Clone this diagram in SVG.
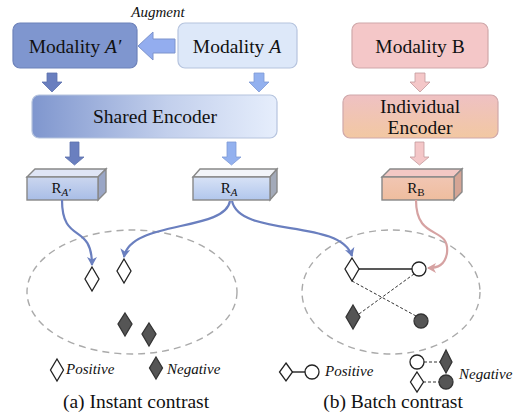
<svg xmlns="http://www.w3.org/2000/svg" width="526" height="417" viewBox="0 0 526 417">
<defs>
<style>
.t{font-family:"Liberation Serif","Times New Roman",serif;fill:#111;}
.lbl{font-size:19.5px;text-anchor:middle;}
.it{font-style:italic;}
.leg{font-size:15px;font-style:italic;}
.rl{font-size:15px;text-anchor:middle;}
.ell{fill:none;stroke:#aaa;stroke-width:1.4;stroke-dasharray:7 5;}
.wd{fill:#fff;stroke:#222;stroke-width:1.3;}
.dd{fill:#555;stroke:#333;stroke-width:1.3;}
.blue{fill:none;stroke:#6a7fbf;stroke-width:2.2;}
.pink{fill:none;stroke:#d6a2a2;stroke-width:2.2;}
.sl{stroke:#222;stroke-width:1.4;}
.dl{stroke:#333;stroke-width:1;stroke-dasharray:3 2;}
.rbox{stroke:#888;stroke-width:1.4;}
</style>
<linearGradient id="gShared" x1="0" y1="0" x2="1" y2="0">
<stop offset="0" stop-color="#7f96ce"/>
<stop offset="0.55" stop-color="#c2cfec"/>
<stop offset="1" stop-color="#e6eefc"/>
</linearGradient>
<linearGradient id="gInd" x1="0" y1="0" x2="0" y2="1">
<stop offset="0" stop-color="#efc1c3"/>
<stop offset="1" stop-color="#f2c8a2"/>
</linearGradient>
<linearGradient id="gRa2" x1="0" y1="0" x2="0" y2="1">
<stop offset="0" stop-color="#cbd6ef"/>
<stop offset="1" stop-color="#a8bde6"/>
</linearGradient>
<linearGradient id="gRa" x1="0" y1="0" x2="0" y2="1">
<stop offset="0" stop-color="#d7e2f6"/>
<stop offset="1" stop-color="#b1c6ec"/>
</linearGradient>
<linearGradient id="gRb" x1="0" y1="0" x2="0" y2="1">
<stop offset="0" stop-color="#f1c6b3"/>
<stop offset="1" stop-color="#efbd9e"/>
</linearGradient>
<marker id="mBlue" markerWidth="10" markerHeight="10" refX="8" refY="5" orient="auto" markerUnits="userSpaceOnUse">
<path d="M0,0 L9,5 L0,10 L2.5,5 Z" fill="#6a7fbf"/>
</marker>
<marker id="mPink" markerWidth="10" markerHeight="10" refX="8" refY="5" orient="auto" markerUnits="userSpaceOnUse">
<path d="M0,0 L9,5 L0,10 L2.5,5 Z" fill="#d6a2a2"/>
</marker>
</defs>
<rect width="526" height="417" fill="#fff"/>

<g id="augment-label">
<text class="t" x="158" y="17" font-size="15" font-style="italic" text-anchor="middle">Augment</text>
</g>

<g id="modality-a-prime">
<rect x="13" y="23" width="124" height="45" rx="7" fill="#7f96cf" stroke="#6d82ba" stroke-width="1.2"/>
<text class="t lbl" x="75" y="53">Modality <tspan class="it">A′</tspan></text>
</g>

<g id="modality-a">
<rect x="178" y="23" width="119" height="45" rx="7" fill="#dde8f9" stroke="#b6c4de" stroke-width="1.2"/>
<text class="t lbl" x="237" y="53">Modality <tspan class="it">A</tspan></text>
</g>

<g id="modality-b">
<rect x="352" y="23" width="136" height="45" rx="7" fill="#f4c7c8" stroke="#cfa8aa" stroke-width="1.2"/>
<text class="t lbl" x="420" y="53">Modality B</text>
</g>

<g id="shared-encoder">
<rect x="32" y="95" width="245" height="43" rx="7" fill="url(#gShared)" stroke="#b6c4de" stroke-width="1.2"/>
<text class="t lbl" x="155" y="123">Shared Encoder</text>
</g>

<g id="individual-encoder">
<rect x="343" y="95" width="155" height="43" rx="7" fill="url(#gInd)" stroke="#cfa8aa" stroke-width="1.2"/>
<text class="t lbl" x="420" y="113">Individual</text>
<text class="t lbl" x="420" y="134">Encoder</text>
</g>

<g id="r-a-prime">
<polygon class="rbox" points="27,177 35,169 106,169 98,177" fill="#dfe5f5"/>
<polygon class="rbox" points="98,177 106,169 106,192 98,200" fill="#9aa6c6"/>
<rect class="rbox" x="27" y="177" width="71" height="23" fill="url(#gRa2)"/>
<text class="t rl" x="61" y="193">R<tspan font-size="11" dy="3" font-style="italic">A′</tspan></text>
</g>

<g id="r-a">
<polygon class="rbox" points="193,177 200,169 277,169 270,177" fill="#f3f5f9"/>
<polygon class="rbox" points="270,177 277,169 277,192 270,200" fill="#a3aab9"/>
<rect class="rbox" x="193" y="177" width="77" height="23" fill="url(#gRa)"/>
<text class="t rl" x="229" y="193">R<tspan font-size="11" dy="3" font-style="italic">A</tspan></text>
</g>

<g id="r-b">
<polygon class="rbox" points="382,177 390,169 462,169 454,177" fill="#f3c8c4"/>
<polygon class="rbox" points="454,177 462,169 462,192 454,200" fill="#d5a595"/>
<rect class="rbox" x="382" y="177" width="72" height="23" fill="url(#gRb)"/>
<text class="t rl" x="416" y="193">R<tspan font-size="11" dy="3">B</tspan></text>
</g>

<g id="instant-cluster">
<ellipse class="ell" cx="132" cy="292" rx="105" ry="62"/>
<polygon class="wd" points="92,267 99,279 92,291 85,279"/>
<polygon class="wd" points="124,259 131,271 124,283 117,271"/>
<polygon class="dd" points="125,313 132,324 125,336 118,324"/>
<polygon class="dd" points="149,323 156,334 149,346 142,334"/>
</g>

<g id="batch-cluster">
<ellipse class="ell" cx="391" cy="292" rx="89" ry="62"/>
<line class="sl" x1="359" y1="269" x2="412" y2="269"/>
<line class="dl" x1="352" y1="281" x2="416" y2="316"/>
<line class="dl" x1="414" y1="274" x2="359" y2="314"/>
<polygon class="wd" points="352,258 359,269 352,281 345,269"/>
<circle class="wd" cx="419" cy="269" r="7"/>
<polygon class="dd" points="353,305 360,317 353,329 346,317"/>
<circle class="dd" cx="421" cy="321" r="7"/>
</g>

<g id="connectors">
<polygon points="175,39 153,39 153,32 138,46 153,60 153,53 175,53" fill="#93adef" stroke="#7c93cc" stroke-width="1"/>
<polygon points="47,73 57,73 57,82 62,82 52,92 42,82 47,82" fill="#6a7fbf" stroke="#5d71ad" stroke-width="0.8"/>
<polygon points="254,73 264,73 264,82 269,82 259,92 249,82 254,82" fill="#93b1ef" stroke="#7f9bd6" stroke-width="0.8"/>
<polygon points="415,73 425,73 425,82 430,82 420,92 410,82 415,82" fill="#f4c7c8" stroke="#c39a9c" stroke-width="0.8"/>
<polygon points="70,142 79,142 79,157 84,157 74.5,165 65,157 70,157" fill="#6a7fbf" stroke="#5d71ad" stroke-width="0.8"/>
<polygon points="227,142 236,142 236,157 241,157 231.5,165 222,157 227,157" fill="#93b1ef" stroke="#7f9bd6" stroke-width="0.8"/>
<polygon points="415,142 424,142 424,157 429,157 419.5,165 410,157 415,157" fill="#f4c7c8" stroke="#c39a9c" stroke-width="0.8"/>
<path class="blue" d="M62,200 C62,245 92,222 92,265" marker-end="url(#mBlue)"/>
<path class="blue" d="M230,201 C225,232 130,220 124,257" marker-end="url(#mBlue)"/>
<path class="blue" d="M232,201 C240,238 340,218 352,256" marker-end="url(#mBlue)"/>
<path class="pink" d="M416,200 C416,242 450,225 447,253 C445,265 438,268 428,268" marker-end="url(#mPink)"/>
</g>

<g id="legend-a">
<polygon class="wd" points="57,359 63.5,370 57,381 50.5,370"/>
<text class="t leg" x="66" y="374">Positive</text>
<polygon class="dd" points="156,357 162.5,368 156,379 149.5,368"/>
<text class="t leg" x="167" y="374">Negative</text>
<text class="t lbl" x="136" y="408">(a) Instant contrast</text>
</g>

<g id="legend-b">
<line class="sl" x1="292" y1="372" x2="306" y2="372"/>
<polygon class="wd" points="286,363 292.5,372 286,381 279.5,372"/>
<circle class="wd" cx="312" cy="372" r="7"/>
<text class="t leg" x="325" y="376">Positive</text>
<line class="dl" x1="424" y1="362" x2="440" y2="362"/>
<circle class="wd" cx="417" cy="362" r="7"/>
<polygon class="dd" points="446,350 452,362 446,373 440,362"/>
<line class="dl" x1="423" y1="382" x2="440" y2="382"/>
<polygon class="wd" points="417,372 423.5,382 417,392 410.5,382"/>
<circle class="dd" cx="446" cy="382" r="7"/>
<text class="t leg" x="459" y="379">Negative</text>
<text class="t lbl" x="393" y="408">(b) Batch contrast</text>
</g>
</svg>
